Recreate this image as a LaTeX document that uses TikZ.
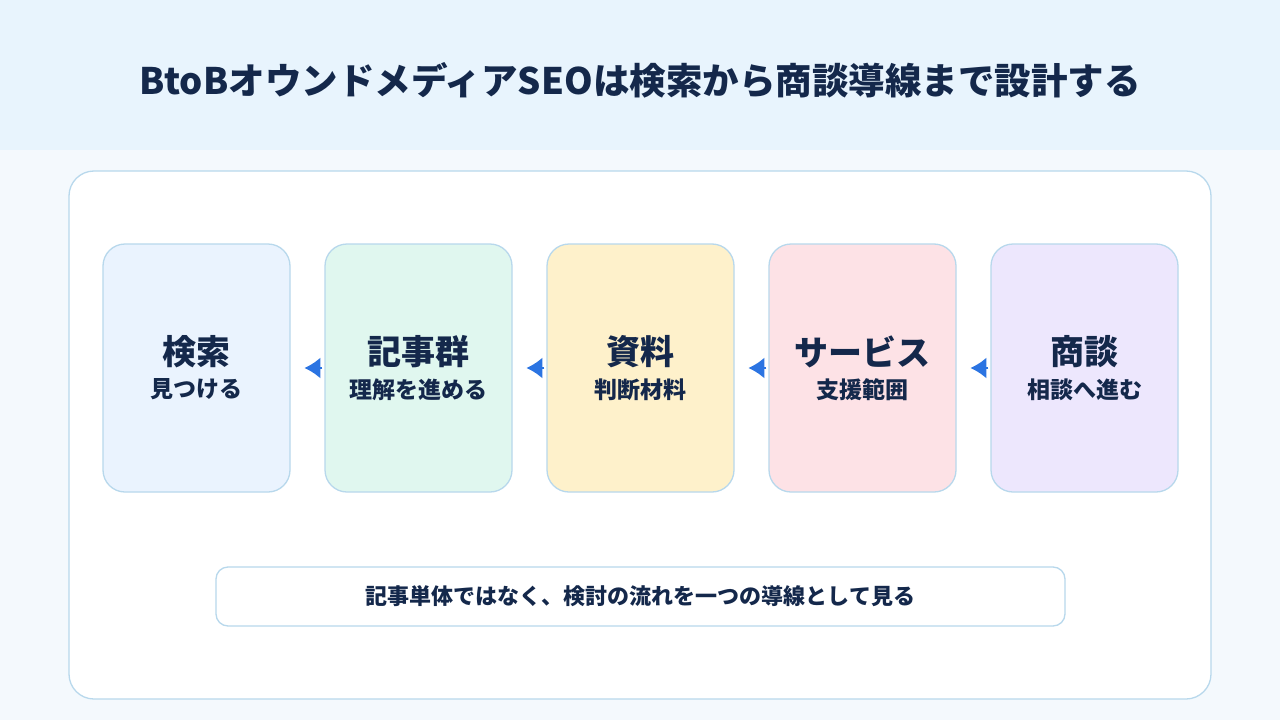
\documentclass[tikz,border=0pt]{standalone}
\usepackage{fontspec}
\setmainfont{Noto Sans CJK JP}
\usetikzlibrary{arrows.meta}

\definecolor{navy}{HTML}{14284B}
\definecolor{headbg}{HTML}{E8F4FD}
\definecolor{pagebg}{HTML}{F4F9FD}
\definecolor{edge}{HTML}{B8D8EC}
\definecolor{flowblue}{HTML}{2B74E2}
\definecolor{fillblue}{HTML}{EAF3FE}
\definecolor{fillgreen}{HTML}{E0F7EF}
\definecolor{fillyellow}{HTML}{FEF1CB}
\definecolor{fillpink}{HTML}{FDE2E6}
\definecolor{fillpurple}{HTML}{EDE7FD}

\newcommand{\steptext}[2]{{\fontsize{34}{34}\selectfont\bfseries #1}\\[9.5pt]{\fontsize{23}{23}\selectfont\bfseries #2}}

\begin{document}
\begin{tikzpicture}[x=1pt, y=-1pt,
	stepbox/.style={draw=edge, line width=1.3pt, rounded corners=22pt, minimum width=187pt, minimum height=248pt, align=center, text=navy, inner sep=0pt},
	flowarrow/.style={draw=flowblue, line width=2pt, -{Latex[length=16pt, width=21pt]}},
	notebox/.style={draw=edge, line width=1.3pt, fill=white, rounded corners=12pt, minimum width=849pt, minimum height=59pt, text=navy, font=\fontsize{22}{22}\selectfont\bfseries}]

	\useasboundingbox (0,0) rectangle (1280,720);
	\fill[pagebg] (0,0) rectangle (1280,720);
	\fill[headbg] (0,0) rectangle (1280,150);
	\node[text=navy, font=\fontsize{36.5}{36.5}\selectfont\bfseries] (title) at (640,80) {BtoBオウンドメディアSEOは検索から商談導線まで設計する};

	\draw[edge, line width=1.3pt, fill=white, rounded corners=25pt] (69,171) rectangle (1211,699);

	\node[stepbox, fill=fillblue] (kensaku) at (196.5,368) {\steptext{検索}{見つける}};
	\node[stepbox, fill=fillgreen] (kiji) at (418.5,368) {\steptext{記事群}{理解を進める}};
	\node[stepbox, fill=fillyellow] (shiryo) at (640.5,368) {\steptext{資料}{判断材料}};
	\node[stepbox, fill=fillpink] (service) at (862.5,368) {\steptext{サービス}{支援範囲}};
	\node[stepbox, fill=fillpurple] (shodan) at (1084.5,368) {\steptext{商談}{相談へ進む}};

	\foreach \n/\m in {kiji/1, shiryo/2, service/3, shodan/4} {
		\coordinate (tip\m) at ([xshift=-20pt]\n.west);
		\draw[flowarrow] ([xshift=-2pt]\n.west) -- (tip\m);
	}

	\node[notebox] (note) at (640.5,596.5) {記事単体ではなく、検討の流れを一つの導線として見る};
\end{tikzpicture}
\end{document}
